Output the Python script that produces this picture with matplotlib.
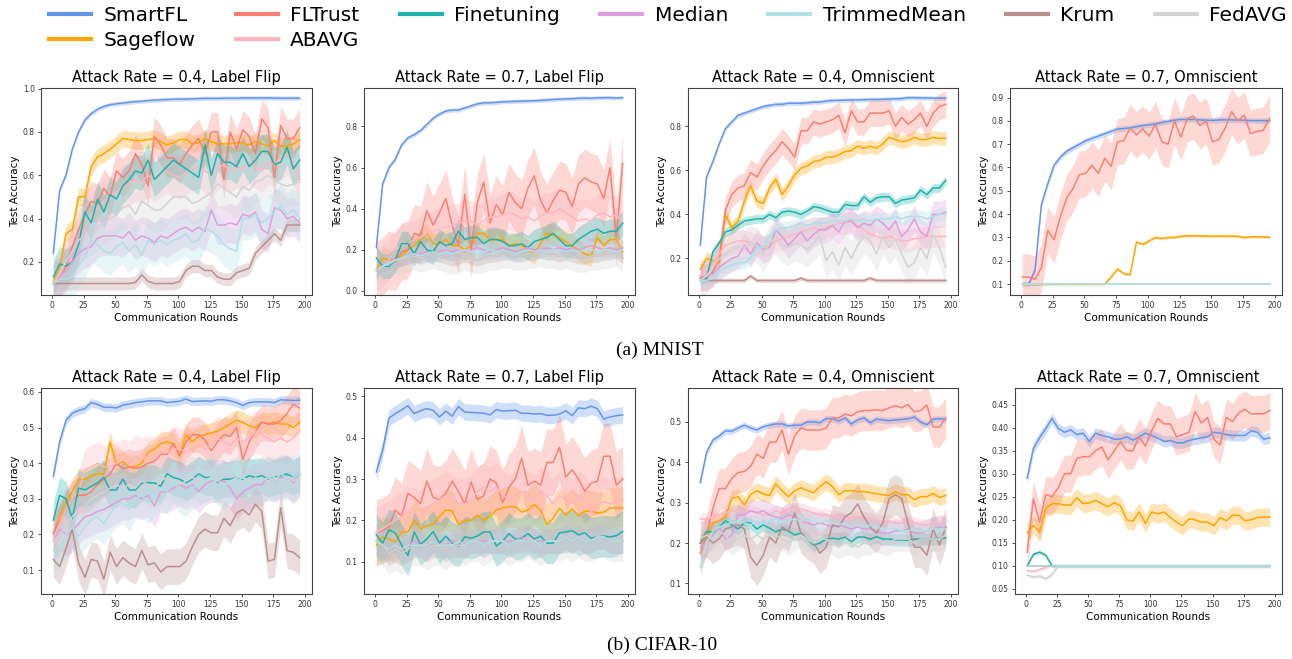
import numpy as np
import matplotlib
matplotlib.use("Agg")
import matplotlib.pyplot as plt
from matplotlib.lines import Line2D

# evaluation rounds (every 5 rounds)
rounds = list(range(1, 200, 5))

methods = ["SmartFL", "Sageflow", "FLTrust", "ABAVG", "Finetuning",
           "Median", "TrimmedMean", "Krum", "FedAVG"]
colors = ["cornflowerblue", "orange", "salmon", "lightpink", "lightseagreen",
          "plum", "powderblue", "rosybrown", "lightgray"]
# order the curves are painted in (TrimmedMean ends up on top of the 0.1 floor)
draw_order = ["SmartFL", "Sageflow", "FLTrust", "ABAVG", "Finetuning",
              "Median", "Krum", "FedAVG", "TrimmedMean"]

# ---- MNIST, attack rate 0.4, label flip
mnist_lf04 = {
    "SmartFL": [0.24,0.53,0.60,0.72,0.80,0.855,0.885,0.905,0.918,0.926,0.930,0.934,0.937,0.940,0.942,0.945,0.947,0.948,0.950,0.951,
                0.952,0.952,0.953,0.954,0.955,0.955,0.955,0.956,0.956,0.956,0.957,0.957,0.957,0.957,0.957,0.957,0.956,0.956,0.956,0.956],
    "Sageflow": [0.11,0.17,0.33,0.35,0.50,0.50,0.64,0.685,0.70,0.72,0.745,0.77,0.765,0.76,0.76,0.765,0.77,0.755,0.74,0.75,
                 0.765,0.765,0.745,0.75,0.77,0.755,0.745,0.745,0.745,0.75,0.75,0.74,0.755,0.745,0.735,0.76,0.735,0.735,0.745,0.765],
    "FLTrust": [0.10,0.12,0.18,0.27,0.35,0.42,0.48,0.47,0.54,0.50,0.62,0.59,0.62,0.70,0.65,0.55,0.78,0.74,0.68,0.68,
                0.65,0.70,0.74,0.77,0.70,0.80,0.80,0.58,0.80,0.72,0.81,0.78,0.70,0.86,0.82,0.59,0.83,0.77,0.77,0.82],
    "ABAVG": [0.10,0.12,0.16,0.22,0.28,0.35,0.42,0.45,0.48,0.50,0.52,0.55,0.56,0.58,0.57,0.60,0.58,0.60,0.62,0.60,
              0.59,0.61,0.63,0.64,0.62,0.60,0.63,0.65,0.62,0.64,0.63,0.66,0.64,0.62,0.66,0.65,0.68,0.70,0.66,0.58],
    "Finetuning": [0.13,0.19,0.18,0.20,0.28,0.43,0.38,0.49,0.43,0.51,0.49,0.55,0.58,0.62,0.61,0.67,0.58,0.61,0.64,0.67,
                   0.65,0.63,0.61,0.59,0.74,0.60,0.70,0.66,0.66,0.64,0.70,0.64,0.67,0.71,0.71,0.65,0.66,0.73,0.63,0.67],
    "Median": [0.10,0.13,0.16,0.20,0.24,0.26,0.27,0.31,0.32,0.32,0.32,0.31,0.34,0.30,0.32,0.31,0.29,0.32,0.31,0.33,
               0.35,0.36,0.34,0.36,0.34,0.44,0.37,0.37,0.38,0.37,0.42,0.41,0.43,0.35,0.33,0.45,0.44,0.40,0.41,0.38],
    "TrimmedMean": [0.10,0.12,0.12,0.13,0.18,0.22,0.30,0.28,0.25,0.24,0.27,0.29,0.25,0.28,0.23,0.30,0.28,0.30,0.28,0.30,
                    0.31,0.33,0.29,0.30,0.36,0.34,0.32,0.28,0.26,0.25,0.40,0.40,0.42,0.38,0.40,0.43,0.46,0.42,0.44,0.40],
    "Krum": [0.10,0.10,0.10,0.10,0.10,0.10,0.10,0.10,0.10,0.10,0.10,0.10,0.10,0.105,0.14,0.11,0.10,0.10,0.10,0.10,
             0.11,0.16,0.18,0.18,0.16,0.16,0.13,0.12,0.12,0.15,0.16,0.17,0.24,0.27,0.30,0.33,0.30,0.37,0.37,0.37],
    "FedAVG": [0.10,0.15,0.20,0.25,0.30,0.32,0.33,0.35,0.38,0.40,0.42,0.45,0.46,0.42,0.48,0.46,0.44,0.44,0.47,0.50,
               0.50,0.50,0.47,0.48,0.50,0.52,0.56,0.54,0.52,0.50,0.55,0.53,0.57,0.58,0.60,0.58,0.56,0.55,0.56,0.57],
}
mnist_lf04_spread = [0.01, 0.04, 0.09, 0.10, 0.08, 0.09, 0.10, 0.03, 0.10]

# ---- MNIST, attack rate 0.7, label flip
mnist_lf07 = {
    "SmartFL": [0.21,0.52,0.60,0.64,0.71,0.745,0.76,0.78,0.81,0.84,0.86,0.875,0.88,0.88,0.89,0.90,0.91,0.915,0.915,0.917,
                0.92,0.921,0.922,0.923,0.924,0.925,0.927,0.929,0.931,0.933,0.934,0.935,0.937,0.938,0.937,0.939,0.94,0.94,0.938,0.94],
    "Sageflow": [0.10,0.16,0.15,0.15,0.17,0.20,0.22,0.25,0.28,0.23,0.23,0.25,0.22,0.22,0.20,0.22,0.28,0.28,0.25,0.25,
                 0.25,0.22,0.23,0.22,0.20,0.18,0.23,0.28,0.27,0.26,0.24,0.22,0.20,0.18,0.17,0.26,0.22,0.25,0.25,0.19],
    "FLTrust": [0.10,0.12,0.15,0.14,0.19,0.20,0.28,0.27,0.39,0.32,0.38,0.45,0.32,0.22,0.47,0.20,0.43,0.53,0.33,0.42,
                0.37,0.48,0.43,0.40,0.50,0.56,0.44,0.38,0.44,0.49,0.48,0.41,0.52,0.55,0.53,0.52,0.45,0.60,0.26,0.62],
    "ABAVG": [0.10,0.12,0.15,0.20,0.22,0.23,0.25,0.26,0.28,0.29,0.30,0.31,0.32,0.33,0.34,0.34,0.32,0.34,0.36,0.36,
              0.37,0.38,0.37,0.35,0.36,0.34,0.36,0.38,0.38,0.40,0.38,0.36,0.34,0.35,0.34,0.37,0.38,0.36,0.37,0.33],
    "Finetuning": [0.16,0.12,0.12,0.15,0.23,0.23,0.18,0.24,0.20,0.19,0.24,0.22,0.23,0.29,0.25,0.26,0.26,0.23,0.25,0.25,
                   0.24,0.22,0.22,0.23,0.21,0.24,0.25,0.26,0.28,0.25,0.22,0.22,0.25,0.27,0.29,0.30,0.28,0.29,0.29,0.33],
    "Median": [0.10,0.12,0.14,0.15,0.16,0.17,0.18,0.18,0.19,0.18,0.19,0.20,0.19,0.20,0.19,0.20,0.21,0.20,0.19,0.20,
               0.21,0.20,0.19,0.20,0.21,0.20,0.20,0.21,0.20,0.21,0.20,0.21,0.20,0.21,0.22,0.21,0.20,0.21,0.20,0.21],
    "TrimmedMean": [0.10,0.12,0.13,0.15,0.16,0.17,0.18,0.17,0.18,0.19,0.18,0.19,0.18,0.19,0.20,0.19,0.18,0.19,0.20,0.19,
                    0.20,0.19,0.18,0.19,0.20,0.19,0.20,0.19,0.20,0.20,0.19,0.20,0.19,0.20,0.20,0.19,0.20,0.20,0.19,0.20],
    "Krum": [0.10,0.12,0.14,0.15,0.15,0.16,0.17,0.16,0.17,0.18,0.17,0.16,0.15,0.16,0.17,0.16,0.15,0.16,0.17,0.17,
             0.18,0.18,0.17,0.17,0.18,0.18,0.19,0.18,0.18,0.17,0.18,0.17,0.16,0.16,0.17,0.17,0.18,0.18,0.19,0.16],
    "FedAVG": [0.10,0.12,0.14,0.15,0.15,0.16,0.17,0.16,0.17,0.18,0.17,0.16,0.15,0.16,0.17,0.16,0.15,0.16,0.17,0.17,
               0.18,0.18,0.17,0.17,0.18,0.18,0.19,0.18,0.18,0.17,0.18,0.17,0.16,0.16,0.17,0.17,0.18,0.18,0.19,0.16],
}
mnist_lf07_spread = [0.01, 0.05, 0.14, 0.10, 0.06, 0.04, 0.04, 0.03, 0.07]

# ---- MNIST, attack rate 0.4, omniscient
mnist_om04 = {
    "SmartFL": [0.26,0.57,0.64,0.72,0.79,0.82,0.85,0.86,0.87,0.88,0.89,0.895,0.90,0.90,0.905,0.905,0.905,0.907,0.91,0.91,
                0.915,0.917,0.918,0.919,0.92,0.92,0.921,0.922,0.922,0.923,0.924,0.925,0.926,0.93,0.93,0.929,0.929,0.928,0.928,0.928],
    "Sageflow": [0.15,0.20,0.19,0.18,0.40,0.34,0.37,0.46,0.53,0.46,0.45,0.52,0.56,0.49,0.53,0.58,0.61,0.62,0.64,0.645,
                 0.66,0.66,0.67,0.685,0.69,0.71,0.70,0.71,0.70,0.72,0.75,0.74,0.73,0.735,0.75,0.74,0.74,0.75,0.745,0.745],
    "FLTrust": [0.12,0.11,0.14,0.20,0.42,0.49,0.52,0.53,0.59,0.57,0.62,0.66,0.69,0.73,0.70,0.66,0.78,0.78,0.82,0.81,
                0.82,0.83,0.85,0.77,0.87,0.82,0.82,0.86,0.86,0.86,0.87,0.80,0.84,0.81,0.83,0.86,0.80,0.86,0.89,0.90],
    "ABAVG": [0.12,0.14,0.18,0.22,0.26,0.27,0.28,0.28,0.27,0.26,0.25,0.26,0.28,0.29,0.30,0.31,0.32,0.33,0.34,0.33,
              0.34,0.35,0.36,0.36,0.37,0.35,0.33,0.31,0.30,0.29,0.30,0.29,0.28,0.28,0.29,0.29,0.30,0.30,0.30,0.30],
    "Finetuning": [0.10,0.11,0.23,0.27,0.32,0.33,0.35,0.37,0.375,0.38,0.38,0.40,0.385,0.41,0.415,0.41,0.40,0.415,0.435,0.43,
                   0.42,0.41,0.41,0.445,0.44,0.44,0.48,0.455,0.475,0.48,0.48,0.45,0.465,0.47,0.475,0.51,0.49,0.52,0.52,0.555],
    "Median": [0.11,0.12,0.13,0.16,0.18,0.20,0.21,0.26,0.22,0.27,0.24,0.25,0.33,0.30,0.26,0.29,0.32,0.28,0.31,0.33,
               0.33,0.35,0.32,0.37,0.37,0.34,0.36,0.35,0.38,0.36,0.33,0.37,0.30,0.33,0.38,0.32,0.30,0.40,0.40,0.41],
    "TrimmedMean": [0.10,0.10,0.11,0.14,0.16,0.17,0.18,0.18,0.20,0.25,0.25,0.30,0.33,0.34,0.34,0.35,0.36,0.35,0.36,0.36,
                    0.36,0.37,0.37,0.37,0.38,0.37,0.38,0.37,0.38,0.38,0.38,0.39,0.38,0.39,0.39,0.39,0.38,0.39,0.40,0.40],
    "Krum": [0.11,0.10,0.10,0.10,0.10,0.10,0.10,0.10,0.12,0.10,0.10,0.10,0.10,0.10,0.10,0.10,0.11,0.10,0.10,0.10,
             0.10,0.10,0.10,0.10,0.10,0.10,0.10,0.11,0.10,0.10,0.10,0.10,0.10,0.10,0.10,0.10,0.10,0.10,0.10,0.10],
    "FedAVG": [0.10,0.12,0.16,0.20,0.22,0.24,0.25,0.25,0.27,0.26,0.22,0.27,0.30,0.26,0.25,0.27,0.26,0.24,0.27,0.30,
               0.19,0.23,0.17,0.25,0.20,0.26,0.30,0.28,0.22,0.30,0.25,0.29,0.22,0.16,0.18,0.25,0.20,0.31,0.25,0.16],
}
mnist_om04_spread = [0.01, 0.03, 0.06, 0.05, 0.02, 0.06, 0.03, 0.01, 0.08]

# ---- MNIST, attack rate 0.7, omniscient
mnist_om07 = {
    "SmartFL": [0.10,0.10,0.16,0.44,0.53,0.61,0.645,0.67,0.685,0.70,0.715,0.725,0.735,0.745,0.755,0.765,0.767,0.77,0.775,0.78,
                0.783,0.787,0.793,0.798,0.803,0.806,0.806,0.806,0.804,0.803,0.802,0.804,0.805,0.804,0.804,0.803,0.801,0.801,0.801,0.801],
    "Sageflow": [0.10,0.10,0.10,0.10,0.10,0.10,0.10,0.10,0.10,0.10,0.10,0.10,0.10,0.10,0.13,0.165,0.145,0.14,0.28,0.27,
                 0.285,0.30,0.295,0.30,0.30,0.305,0.307,0.307,0.307,0.306,0.305,0.306,0.306,0.305,0.305,0.30,0.303,0.303,0.302,0.301],
    "FLTrust": [0.13,0.13,0.12,0.17,0.33,0.29,0.39,0.47,0.51,0.57,0.575,0.61,0.575,0.64,0.605,0.71,0.715,0.77,0.74,0.765,
                0.735,0.785,0.71,0.70,0.80,0.73,0.81,0.82,0.78,0.80,0.71,0.72,0.77,0.84,0.80,0.825,0.745,0.755,0.76,0.81],
    "ABAVG": [0.10,0.10,0.10,0.10,0.10,0.10,0.10,0.10,0.10,0.10,0.10,0.10,0.10,0.10,0.10,0.10,0.10,0.10,0.10,0.10,
              0.10,0.10,0.10,0.10,0.10,0.10,0.10,0.10,0.10,0.10,0.10,0.10,0.10,0.10,0.10,0.10,0.10,0.10,0.10,0.10],
    "Finetuning": [0.10,0.099,0.098,0.099,0.10,0.10,0.10,0.10,0.10,0.10,0.10,0.10,0.10,0.10,0.10,0.10,0.10,0.10,0.10,0.10,
                   0.10,0.10,0.10,0.10,0.10,0.10,0.10,0.10,0.10,0.10,0.10,0.10,0.10,0.10,0.10,0.10,0.10,0.10,0.10,0.10],
    "Median": [0.10,0.10,0.10,0.10,0.10,0.10,0.10,0.10,0.10,0.10,0.10,0.10,0.10,0.10,0.10,0.10,0.10,0.10,0.10,0.10,
               0.10,0.10,0.10,0.10,0.10,0.10,0.10,0.10,0.10,0.10,0.10,0.10,0.10,0.10,0.10,0.10,0.10,0.10,0.10,0.10],
    "TrimmedMean": [0.10,0.10,0.10,0.10,0.10,0.10,0.10,0.10,0.10,0.10,0.10,0.10,0.10,0.10,0.10,0.10,0.10,0.10,0.10,0.10,
                    0.10,0.10,0.10,0.10,0.10,0.10,0.10,0.10,0.10,0.10,0.10,0.10,0.10,0.10,0.10,0.10,0.10,0.10,0.10,0.10],
    "Krum": [0.10,0.10,0.10,0.10,0.10,0.10,0.10,0.10,0.10,0.10,0.10,0.10,0.10,0.10,0.10,0.10,0.10,0.10,0.10,0.10,
             0.10,0.10,0.10,0.10,0.10,0.10,0.10,0.10,0.10,0.10,0.10,0.10,0.10,0.10,0.10,0.10,0.10,0.10,0.10,0.10],
    "FedAVG": [0.10,0.10,0.10,0.10,0.10,0.10,0.10,0.10,0.10,0.10,0.10,0.10,0.10,0.10,0.10,0.10,0.10,0.10,0.10,0.10,
               0.10,0.10,0.10,0.10,0.10,0.10,0.10,0.10,0.10,0.10,0.10,0.10,0.10,0.10,0.10,0.10,0.10,0.10,0.10,0.10],
}
mnist_om07_spread = [0.012, 0.006, 0.10, 0.0, 0.0, 0.0, 0.0, 0.0, 0.0]

# ---- CIFAR-10, attack rate 0.4, label flip
cifar_lf04 = {
    "SmartFL": [0.363,0.46,0.52,0.54,0.548,0.553,0.57,0.565,0.557,0.557,0.555,0.563,0.566,0.57,0.572,0.575,0.575,0.575,0.57,0.572,
                0.574,0.58,0.573,0.574,0.575,0.574,0.578,0.578,0.575,0.57,0.562,0.57,0.572,0.572,0.572,0.57,0.578,0.577,0.576,0.577],
    "Sageflow": [0.20,0.25,0.29,0.32,0.355,0.355,0.365,0.37,0.37,0.46,0.395,0.405,0.39,0.39,0.40,0.43,0.44,0.455,0.46,0.455,
                 0.425,0.48,0.46,0.475,0.48,0.485,0.49,0.50,0.51,0.52,0.515,0.505,0.50,0.515,0.51,0.515,0.51,0.51,0.50,0.515],
    "FLTrust": [0.205,0.235,0.27,0.30,0.31,0.31,0.32,0.34,0.355,0.37,0.40,0.385,0.39,0.385,0.39,0.40,0.405,0.425,0.425,0.455,
                0.42,0.46,0.48,0.48,0.465,0.435,0.46,0.48,0.475,0.50,0.41,0.46,0.49,0.515,0.51,0.51,0.52,0.54,0.565,0.555],
    "ABAVG": [0.19,0.23,0.27,0.30,0.32,0.38,0.39,0.40,0.39,0.39,0.40,0.41,0.40,0.42,0.41,0.42,0.41,0.43,0.43,0.44,
              0.44,0.43,0.44,0.45,0.44,0.45,0.47,0.46,0.45,0.47,0.46,0.47,0.49,0.48,0.47,0.46,0.47,0.46,0.47,0.495],
    "Finetuning": [0.24,0.31,0.30,0.245,0.33,0.325,0.335,0.345,0.36,0.325,0.325,0.355,0.325,0.325,0.345,0.345,0.345,0.335,0.37,0.36,
                   0.355,0.345,0.355,0.37,0.36,0.36,0.345,0.355,0.355,0.36,0.355,0.365,0.36,0.365,0.355,0.36,0.365,0.37,0.36,0.37],
    "Median": [0.18,0.215,0.20,0.21,0.23,0.25,0.255,0.265,0.27,0.28,0.29,0.30,0.30,0.31,0.30,0.31,0.28,0.32,0.32,0.33,
               0.34,0.33,0.34,0.32,0.34,0.35,0.35,0.35,0.33,0.30,0.32,0.33,0.34,0.34,0.36,0.35,0.36,0.365,0.345,0.37],
    "TrimmedMean": [0.155,0.165,0.20,0.22,0.195,0.22,0.24,0.25,0.23,0.26,0.28,0.29,0.27,0.30,0.31,0.29,0.31,0.33,0.32,0.35,
                    0.32,0.31,0.33,0.34,0.35,0.36,0.34,0.33,0.35,0.35,0.36,0.34,0.36,0.35,0.36,0.35,0.37,0.36,0.36,0.37],
    "Krum": [0.13,0.11,0.16,0.215,0.12,0.08,0.13,0.125,0.075,0.15,0.11,0.135,0.12,0.11,0.155,0.115,0.12,0.095,0.11,0.11,
             0.11,0.125,0.165,0.20,0.215,0.205,0.205,0.245,0.225,0.26,0.27,0.255,0.285,0.265,0.125,0.13,0.275,0.155,0.15,0.135],
    "FedAVG": [0.18,0.20,0.22,0.25,0.27,0.28,0.30,0.31,0.32,0.33,0.34,0.33,0.34,0.33,0.35,0.34,0.33,0.35,0.36,0.35,
               0.34,0.35,0.36,0.35,0.35,0.36,0.35,0.34,0.35,0.36,0.36,0.35,0.35,0.36,0.35,0.36,0.35,0.36,0.35,0.36],
}
cifar_lf04_spread = [0.012, 0.03, 0.05, 0.06, 0.05, 0.06, 0.06, 0.05, 0.06]

# ---- CIFAR-10, attack rate 0.7, label flip
cifar_lf07 = {
    "SmartFL": [0.317,0.37,0.447,0.458,0.467,0.477,0.458,0.465,0.47,0.466,0.45,0.464,0.452,0.475,0.462,0.461,0.46,0.459,0.455,0.468,
                0.464,0.465,0.466,0.459,0.459,0.457,0.458,0.454,0.454,0.457,0.465,0.453,0.472,0.47,0.476,0.47,0.445,0.45,0.453,0.455],
    "Sageflow": [0.14,0.16,0.155,0.148,0.172,0.172,0.20,0.18,0.187,0.19,0.21,0.225,0.223,0.19,0.20,0.20,0.213,0.20,0.21,0.225,
                 0.23,0.233,0.233,0.22,0.225,0.238,0.225,0.19,0.205,0.23,0.213,0.228,0.212,0.222,0.222,0.218,0.22,0.23,0.23,0.23],
    "FLTrust": [0.17,0.175,0.185,0.225,0.21,0.265,0.255,0.24,0.295,0.255,0.25,0.265,0.295,0.27,0.24,0.293,0.25,0.26,0.30,0.29,
                0.243,0.28,0.30,0.35,0.285,0.295,0.285,0.34,0.34,0.377,0.305,0.322,0.30,0.27,0.29,0.295,0.355,0.355,0.285,0.30],
    "ABAVG": [0.17,0.18,0.19,0.20,0.21,0.22,0.22,0.21,0.23,0.24,0.25,0.26,0.25,0.24,0.24,0.25,0.27,0.28,0.27,0.28,
              0.26,0.25,0.26,0.27,0.26,0.25,0.27,0.26,0.24,0.26,0.25,0.24,0.26,0.25,0.22,0.24,0.245,0.24,0.245,0.25],
    "Finetuning": [0.165,0.145,0.177,0.17,0.14,0.115,0.172,0.142,0.155,0.173,0.145,0.162,0.145,0.138,0.16,0.157,0.162,0.172,0.172,0.138,
                   0.15,0.168,0.155,0.157,0.168,0.155,0.162,0.145,0.145,0.17,0.172,0.175,0.165,0.17,0.157,0.16,0.162,0.16,0.163,0.173],
    "Median": [0.15,0.14,0.13,0.14,0.13,0.14,0.15,0.14,0.14,0.15,0.14,0.14,0.15,0.15,0.14,0.15,0.15,0.15,0.15,0.15,
               0.15,0.15,0.15,0.16,0.15,0.15,0.15,0.15,0.15,0.15,0.16,0.15,0.16,0.15,0.15,0.16,0.16,0.15,0.15,0.15],
    "TrimmedMean": [0.15,0.14,0.13,0.14,0.13,0.14,0.14,0.14,0.14,0.15,0.14,0.14,0.14,0.15,0.14,0.15,0.15,0.14,0.15,0.15,
                    0.15,0.14,0.15,0.15,0.15,0.15,0.14,0.15,0.15,0.15,0.16,0.15,0.16,0.15,0.15,0.16,0.16,0.15,0.15,0.15],
    "Krum": [0.15,0.14,0.12,0.13,0.12,0.13,0.14,0.14,0.13,0.14,0.14,0.13,0.14,0.14,0.14,0.15,0.15,0.14,0.15,0.15,
             0.15,0.14,0.15,0.15,0.16,0.15,0.14,0.15,0.15,0.15,0.16,0.15,0.16,0.15,0.15,0.16,0.16,0.15,0.15,0.15],
    "FedAVG": [0.15,0.14,0.12,0.13,0.12,0.13,0.14,0.14,0.13,0.14,0.14,0.13,0.14,0.14,0.14,0.15,0.15,0.14,0.15,0.15,
               0.15,0.14,0.15,0.15,0.16,0.15,0.14,0.15,0.15,0.15,0.16,0.15,0.16,0.15,0.15,0.16,0.16,0.15,0.15,0.15],
}
cifar_lf07_spread = [0.02, 0.05, 0.08, 0.06, 0.05, 0.03, 0.03, 0.03, 0.05]

# ---- CIFAR-10, attack rate 0.4, omniscient
cifar_om04 = {
    "SmartFL": [0.35,0.425,0.455,0.465,0.478,0.477,0.485,0.492,0.485,0.48,0.488,0.492,0.495,0.495,0.49,0.492,0.492,0.50,0.50,0.498,
                0.508,0.508,0.502,0.51,0.495,0.505,0.51,0.498,0.507,0.505,0.503,0.505,0.506,0.508,0.512,0.50,0.493,0.507,0.508,0.506],
    "Sageflow": [0.20,0.21,0.25,0.255,0.265,0.31,0.315,0.295,0.32,0.33,0.322,0.318,0.347,0.33,0.315,0.33,0.337,0.33,0.325,0.34,
                 0.352,0.34,0.32,0.33,0.33,0.327,0.328,0.325,0.322,0.32,0.318,0.327,0.32,0.32,0.307,0.315,0.315,0.323,0.313,0.318],
    "FLTrust": [0.175,0.22,0.285,0.335,0.335,0.36,0.375,0.377,0.39,0.42,0.41,0.45,0.45,0.48,0.42,0.465,0.485,0.48,0.48,0.48,
                0.485,0.51,0.51,0.52,0.515,0.525,0.528,0.528,0.53,0.528,0.535,0.54,0.535,0.543,0.525,0.528,0.542,0.488,0.487,0.51],
    "ABAVG": [0.26,0.26,0.265,0.27,0.275,0.28,0.28,0.28,0.28,0.275,0.27,0.27,0.28,0.275,0.285,0.285,0.285,0.28,0.275,0.27,
              0.27,0.265,0.265,0.26,0.26,0.265,0.265,0.26,0.255,0.255,0.255,0.25,0.25,0.255,0.25,0.245,0.245,0.25,0.25,0.255],
    "Finetuning": [0.20,0.228,0.228,0.24,0.255,0.245,0.235,0.25,0.25,0.235,0.245,0.237,0.228,0.235,0.23,0.22,0.225,0.21,0.195,0.20,
                   0.21,0.212,0.21,0.215,0.203,0.215,0.215,0.21,0.216,0.21,0.21,0.208,0.208,0.207,0.21,0.21,0.21,0.21,0.212,0.213],
    "Median": [0.19,0.20,0.22,0.24,0.21,0.22,0.27,0.27,0.28,0.275,0.28,0.27,0.265,0.26,0.27,0.265,0.255,0.25,0.245,0.25,
               0.245,0.24,0.245,0.24,0.235,0.24,0.235,0.235,0.23,0.225,0.225,0.23,0.23,0.235,0.225,0.225,0.23,0.235,0.24,0.235],
    "TrimmedMean": [0.14,0.20,0.23,0.24,0.245,0.25,0.255,0.25,0.245,0.255,0.25,0.255,0.26,0.25,0.255,0.26,0.255,0.26,0.255,0.25,
                    0.255,0.25,0.245,0.25,0.24,0.245,0.24,0.245,0.24,0.235,0.235,0.235,0.23,0.23,0.235,0.23,0.23,0.235,0.235,0.235],
    "Krum": [0.20,0.215,0.20,0.21,0.235,0.24,0.245,0.235,0.165,0.145,0.17,0.215,0.20,0.24,0.23,0.275,0.225,0.21,0.20,0.175,
             0.19,0.245,0.24,0.265,0.275,0.297,0.265,0.24,0.225,0.25,0.31,0.32,0.31,0.25,0.19,0.19,0.17,0.235,0.195,0.24],
    "FedAVG": [0.21,0.22,0.21,0.23,0.22,0.20,0.21,0.22,0.21,0.22,0.21,0.22,0.22,0.21,0.20,0.21,0.22,0.21,0.20,0.21,
               0.21,0.20,0.19,0.20,0.20,0.19,0.20,0.20,0.21,0.20,0.20,0.21,0.21,0.21,0.20,0.21,0.21,0.21,0.21,0.22],
}
cifar_om04_spread = [0.008, 0.02, 0.05, 0.015, 0.015, 0.03, 0.02, 0.05, 0.03]

# ---- CIFAR-10, attack rate 0.7, omniscient
cifar_om07 = {
    "SmartFL": [0.29,0.355,0.378,0.398,0.42,0.398,0.39,0.395,0.385,0.388,0.37,0.388,0.383,0.38,0.375,0.375,0.38,0.373,0.38,0.388,
                0.383,0.377,0.37,0.372,0.367,0.367,0.372,0.375,0.378,0.38,0.39,0.388,0.385,0.383,0.383,0.383,0.393,0.39,0.375,0.378],
    "Sageflow": [0.172,0.188,0.173,0.225,0.235,0.235,0.232,0.232,0.248,0.235,0.237,0.242,0.235,0.228,0.237,0.23,0.20,0.197,0.217,0.192,
                 0.217,0.213,0.217,0.205,0.195,0.187,0.202,0.20,0.195,0.195,0.187,0.205,0.198,0.21,0.21,0.198,0.20,0.205,0.206,0.206],
    "FLTrust": [0.13,0.245,0.195,0.255,0.25,0.27,0.30,0.30,0.333,0.337,0.337,0.35,0.358,0.33,0.35,0.37,0.35,0.35,0.38,0.36,
                0.393,0.42,0.408,0.408,0.38,0.385,0.39,0.435,0.41,0.422,0.375,0.362,0.422,0.413,0.432,0.44,0.43,0.43,0.43,0.437],
    "ABAVG": [0.09,0.088,0.092,0.097,0.10,0.10,0.10,0.10,0.10,0.10,0.10,0.10,0.10,0.10,0.10,0.10,0.10,0.10,0.10,0.10,
              0.10,0.10,0.10,0.10,0.10,0.10,0.10,0.10,0.10,0.10,0.10,0.10,0.10,0.10,0.10,0.10,0.10,0.10,0.10,0.10],
    "Finetuning": [0.10,0.125,0.13,0.123,0.10,0.10,0.10,0.10,0.10,0.10,0.10,0.10,0.10,0.10,0.10,0.10,0.10,0.10,0.10,0.10,
                   0.10,0.10,0.10,0.10,0.10,0.10,0.10,0.10,0.10,0.10,0.10,0.10,0.10,0.10,0.10,0.10,0.10,0.10,0.10,0.10],
    "Median": [0.10,0.10,0.10,0.10,0.10,0.10,0.10,0.10,0.10,0.10,0.10,0.10,0.10,0.10,0.10,0.10,0.10,0.10,0.10,0.10,
               0.10,0.10,0.10,0.10,0.10,0.10,0.10,0.10,0.10,0.10,0.10,0.10,0.10,0.10,0.10,0.10,0.10,0.10,0.10,0.10],
    "TrimmedMean": [0.10,0.10,0.10,0.10,0.10,0.10,0.10,0.10,0.10,0.10,0.10,0.10,0.10,0.10,0.10,0.10,0.10,0.10,0.10,0.10,
                    0.10,0.10,0.10,0.10,0.10,0.10,0.10,0.10,0.10,0.10,0.10,0.10,0.10,0.10,0.10,0.10,0.10,0.10,0.10,0.10],
    "Krum": [0.10,0.10,0.10,0.10,0.10,0.10,0.10,0.10,0.10,0.10,0.10,0.10,0.10,0.10,0.10,0.10,0.10,0.10,0.10,0.10,
             0.10,0.10,0.10,0.10,0.10,0.10,0.10,0.10,0.10,0.10,0.10,0.10,0.10,0.10,0.10,0.10,0.10,0.10,0.10,0.10],
    "FedAVG": [0.08,0.076,0.078,0.072,0.082,0.10,0.10,0.10,0.10,0.10,0.10,0.10,0.10,0.10,0.10,0.10,0.10,0.10,0.10,0.10,
               0.10,0.10,0.10,0.10,0.10,0.10,0.10,0.10,0.10,0.10,0.10,0.10,0.10,0.10,0.10,0.10,0.10,0.10,0.10,0.10],
}
cifar_om07_spread = [0.012, 0.02, 0.04, 0.003, 0.004, 0.0, 0.0, 0.0, 0.004]

titles = ["Attack Rate = 0.4, Label Flip", "Attack Rate = 0.7, Label Flip",
          "Attack Rate = 0.4, Omniscient", "Attack Rate = 0.7, Omniscient"]


def draw_panel(ax, data, spread, title, ylim, yticks):
    style = {m: (c, w) for m, c, w in zip(methods, colors, spread)}
    for name in draw_order:
        color, w = style[name]
        y = np.array(data[name])
        if w > 0:
            ax.fill_between(rounds, y - w, y + w, color=color, alpha=0.3, linewidth=0)
        ax.plot(rounds, y, color=color, linewidth=1.1)
    ax.set_xlim(-8.75, 205.75)
    ax.set_ylim(*ylim)
    ax.set_xticks([0, 25, 50, 75, 100, 125, 150, 175, 200])
    ax.set_yticks(yticks)
    ax.tick_params(labelsize=5.5, length=2.5, width=0.6, pad=2, colors="#333333")
    for s in ax.spines.values():
        s.set_linewidth(0.8)
        s.set_color("#444444")
    ax.set_title(title, fontsize=10.5, pad=4)
    ax.set_xlabel("Communication Rounds", fontsize=7.5, labelpad=2)
    ax.set_ylabel("Test Accuracy", fontsize=7.5, labelpad=2)


W, H = 1292, 659
fig = plt.figure(figsize=(W / 100, H / 100), dpi=100)


def px_axes(left, right, top, bottom):
    return fig.add_axes([left / W, 1 - bottom / H, (right - left) / W, (bottom - top) / H])


panels = [
    (px_axes(41, 312, 88, 295), mnist_lf04, mnist_lf04_spread, titles[0], (0.047, 1.003), [0.2, 0.4, 0.6, 0.8, 1.0]),
    (px_axes(364, 635, 88, 295), mnist_lf07, mnist_lf07_spread, titles[1], (-0.02, 0.987), [0.0, 0.2, 0.4, 0.6, 0.8]),
    (px_axes(688, 958, 88, 295), mnist_om04, mnist_om04_spread, titles[2], (0.034, 0.974), [0.2, 0.4, 0.6, 0.8]),
    (px_axes(1010, 1282, 88, 295), mnist_om07, mnist_om07_spread, titles[3], (0.053, 0.941),
     [0.1, 0.2, 0.3, 0.4, 0.5, 0.6, 0.7, 0.8, 0.9]),
    (px_axes(41, 312, 388, 594), cifar_lf04, cifar_lf04_spread, titles[0], (0.033, 0.611), [0.1, 0.2, 0.3, 0.4, 0.5, 0.6]),
    (px_axes(364, 635, 388, 594), cifar_lf07, cifar_lf07_spread, titles[1], (0.022, 0.52), [0.1, 0.2, 0.3, 0.4, 0.5]),
    (px_axes(688, 958, 388, 594), cifar_om04, cifar_om04_spread, titles[2], (0.074, 0.584), [0.1, 0.2, 0.3, 0.4, 0.5]),
    (px_axes(1015, 1282, 388, 594), cifar_om07, cifar_om07_spread, titles[3], (0.039, 0.486),
     [0.05, 0.10, 0.15, 0.20, 0.25, 0.30, 0.35, 0.40, 0.45]),
]
for ax, data, spread, title, ylim, yticks in panels:
    draw_panel(ax, data, spread, title, ylim, yticks)

# shared legend
handles = [Line2D([0], [0], color=c, linewidth=3) for c in colors]
fig.legend(handles, methods, loc="upper center", bbox_to_anchor=(0.517, 1.018), ncol=7,
           fontsize=14.5, frameon=False, handlelength=2.1, handletextpad=0.6,
           columnspacing=2.0, labelspacing=0.3)

fig.text(660 / W, 1 - 350 / H, "(a) MNIST", ha="center", va="center",
         fontsize=14, family="Liberation Serif")
fig.text(662 / W, 1 - 645 / H, "(b) CIFAR-10", ha="center", va="center",
         fontsize=14, family="Liberation Serif")

fig.savefig("out.png", dpi=100)
